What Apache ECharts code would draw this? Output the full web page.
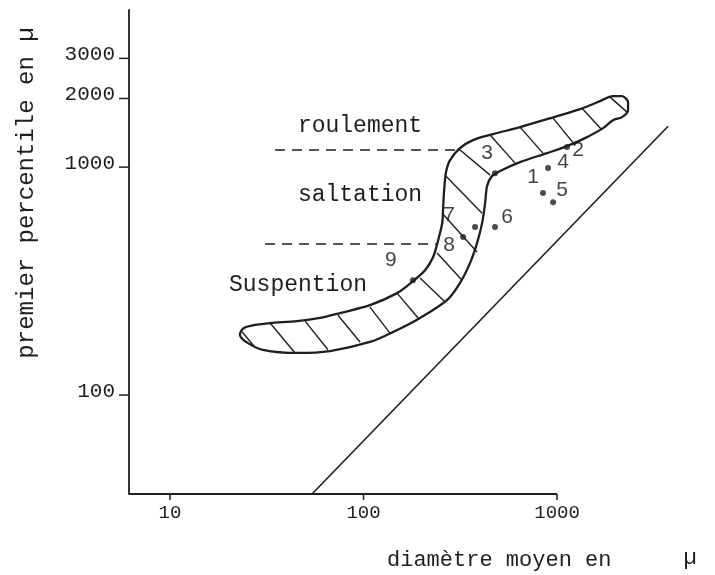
<!DOCTYPE html>
<html>
<head>
<meta charset="utf-8">
<script src="https://cdn.jsdelivr.net/npm/echarts@6/dist/echarts.min.js"></script>
<style>
  html, body { margin: 0; padding: 0; background: #ffffff; }
  #chart { width: 715px; height: 575px; }
</style>
</head>
<body>
<div id="chart"></div>
<script>
// Diagramme CM : diamètre moyen (M) contre premier percentile (C), échelles logarithmiques.

// Axis ranges (µ). The plotting area runs past the last graduated value (1000)
// so the band and the reference line can extend to the right of the axis.
const X_MIN = 6.14, X_MAX = 5480;
const Y_MIN = 36.8, Y_MAX = 4890;

// Tick values and labels
const xTickValues = [10, 100, 1000];
const xTickLabels = ['10', '100', '1000'];
const yTickValues = [100, 1000, 2000, 3000];
const yTickLabels = ['100', '1000', '2000', '3000'];

// Outline of the hatched band [M, C]: outer edge from the fine tip to the coarse tip...
const bandOuter = [
  [23.0, 187], [24.1, 197], [27.5, 203], [32.9, 207], [45.3, 211], [59.6, 218],
  [75.6, 229], [108, 248], [149, 280], [180, 316], [208, 353], [229, 403],
  [243, 478], [255, 568], [258, 668], [261, 793], [267, 951], [280, 1073],
  [315, 1211], [368, 1314], [467, 1395], [644, 1498], [888, 1624], [1315, 1796],
  [1668, 1947], [1947, 2048], [2167, 2048], [2328, 1928], [2328, 1778], [2167, 1657]
];
// ...and inner edge back to the fine tip
const bandInner = [
  [1947, 1607], [1729, 1483], [1395, 1340], [1126, 1236], [888, 1152], [644, 1051],
  [508, 961], [461, 913], [435, 826], [425, 695], [410, 568], [386, 464],
  [355, 379], [315, 310], [270, 261], [196, 218], [142, 189], [108, 171],
  [67.1, 156], [45.3, 153], [30.2, 158], [25.3, 169], [23.0, 183]
];

// Hatch strokes across the band (start on outer edge, end on inner edge)
const hatchFrom = [
  [23.6, 189], [32.9, 207], [49.9, 211], [73.8, 224], [108, 243], [149, 280],
  [196, 326], [240, 420], [255, 628], [264, 922], [308, 1211], [451, 1382],
  [644, 1498], [954, 1640], [1347, 1814], [1879, 2028]
];
const hatchTo = [
  [27.5, 162], [44.3, 153], [65.5, 158], [95.9, 171], [137, 187], [194, 215],
  [264, 256], [323, 319], [386, 424], [410, 628], [451, 922], [607, 1041],
  [846, 1152], [1239, 1249], [1708, 1454], [2300, 1743]
];

// Limits between transport modes
const limitRoulement = [[34.9, 1187], [297, 1187]];
const limitSuspension = [[31.0, 460], [237, 460]];

// C = M style reference line
const cmLine = [[54.2, 36.8], [3750, 1511]];

// Samples
const sampleIds = ['1', '2', '3', '4', '5', '6', '7', '8', '9'];
const sampleM = [846, 1126, 478, 899, 954, 478, 377, 327, 180];
const sampleC = [769, 1224, 941, 990, 702, 546, 546, 493, 319];

// Label placement around each sample dot (px)
const sampleLabelOffsets = [
  [-10, -16], [11, 3], [-8, -20], [15, -6], [9, -12], [12, -10], [-26, -12], [-14, 8], [-22, -20]
];

const INK = '#1e1e1e';
const MONO = '"Liberation Mono", "DejaVu Sans Mono", monospace';

const chart = echarts.init(document.getElementById('chart'), null, { renderer: 'canvas' });

function tickSeries(values, labels, axis) {
  return {
    type: 'custom',
    coordinateSystem: 'cartesian2d',
    silent: true,
    clip: false,
    z: 5,
    data: values.map((v, i) => axis === 'y' ? [X_MIN, v, i] : [v, Y_MIN, i]),
    encode: { x: 0, y: 1 },
    renderItem: function (params, api) {
      const p = api.coord([api.value(0), api.value(1)]);
      const text = labels[api.value(2)];
      if (axis === 'y') {
        return {
          type: 'group',
          children: [
            { type: 'line', shape: { x1: p[0] - 10, y1: p[1], x2: p[0], y2: p[1] },
              style: { stroke: INK, lineWidth: 1.5 } },
            { type: 'text', x: p[0] - 14, y: p[1] - 4,
              style: { text: text, align: 'right', verticalAlign: 'middle',
                       font: '21px ' + MONO, fill: INK } }
          ]
        };
      }
      return {
        type: 'group',
        children: [
          { type: 'line', shape: { x1: p[0], y1: p[1], x2: p[0], y2: p[1] + 6 },
            style: { stroke: INK, lineWidth: 1.5 } },
          { type: 'text', x: p[0], y: p[1] + 19,
            style: { text: text, align: 'center', verticalAlign: 'middle',
                     font: '19px ' + MONO, fill: INK } }
        ]
      };
    }
  };
}

const bandPath = bandOuter.concat(bandInner, [bandOuter[0]]);
const hatchData = hatchFrom.map((p, i) => ({ coords: [p, hatchTo[i]] }));
// Horizontal axis is graduated only up to its last tick
const xAxisBase = [[X_MIN, Y_MIN], [xTickValues[xTickValues.length - 1], Y_MIN]];

const option = {
  backgroundColor: '#ffffff',
  animation: false,
  grid: { left: 129, right: 15, top: 10, bottom: 81, containLabel: false },
  xAxis: {
    type: 'log', logBase: 10, min: X_MIN, max: X_MAX,
    axisLine: { show: false },
    axisTick: { show: false }, axisLabel: { show: false }, splitLine: { show: false }
  },
  yAxis: {
    type: 'log', logBase: 10, min: Y_MIN, max: Y_MAX,
    axisLine: { show: true, onZero: false, lineStyle: { color: INK, width: 1.8 } },
    axisTick: { show: false }, axisLabel: { show: false }, splitLine: { show: false }
  },
  graphic: [
    { type: 'text', x: 360, y: 126, style: { text: 'roulement', font: '23px ' + MONO, fill: INK, align: 'center', verticalAlign: 'middle' } },
    { type: 'text', x: 360, y: 195, style: { text: 'saltation', font: '23px ' + MONO, fill: INK, align: 'center', verticalAlign: 'middle' } },
    { type: 'text', x: 298, y: 285, style: { text: 'Suspention', font: '23px ' + MONO, fill: INK, align: 'center', verticalAlign: 'middle' } },
    { type: 'text', x: 387, y: 560, style: { text: 'diamètre moyen en', font: '22px ' + MONO, fill: INK, align: 'left', verticalAlign: 'middle' } },
    { type: 'text', x: 690, y: 558, style: { text: 'µ', font: '22px ' + MONO, fill: INK, align: 'center', verticalAlign: 'middle' } },
    { type: 'text', x: 27, y: 193, rotation: Math.PI / 2,
      style: { text: 'premier percentile en µ', font: '24px ' + MONO, fill: INK, align: 'center', verticalAlign: 'middle' } }
  ],
  series: [
    {
      name: 'axe des diamètres',
      type: 'line', data: xAxisBase, silent: true,
      showSymbol: false, symbol: 'none',
      lineStyle: { color: INK, width: 1.8 }
    },
    {
      name: 'limite C = M',
      type: 'line', data: cmLine, silent: true,
      showSymbol: false, symbol: 'none',
      lineStyle: { color: INK, width: 1.6 }
    },
    {
      name: 'bande',
      type: 'line', data: bandPath, smooth: 0.3, silent: true,
      showSymbol: false, symbol: 'none',
      lineStyle: { color: INK, width: 2.3 }
    },
    {
      name: 'hachures',
      type: 'lines', coordinateSystem: 'cartesian2d', silent: true,
      data: hatchData,
      lineStyle: { color: INK, width: 1.4, opacity: 1 }
    },
    {
      name: 'limites',
      type: 'lines', coordinateSystem: 'cartesian2d', silent: true,
      data: [{ coords: limitRoulement }, { coords: limitSuspension }],
      lineStyle: { color: INK, width: 1.6, type: [10, 7], opacity: 1 }
    },
    {
      name: 'échantillons',
      type: 'scatter', silent: true, z: 6, clip: false,
      symbol: 'circle', symbolSize: 6,
      itemStyle: { color: INK },
      data: sampleIds.map((id, i) => ({
        name: id,
        value: [sampleM[i], sampleC[i]],
        label: { offset: sampleLabelOffsets[i] }
      })),
      label: {
        show: true, position: 'inside', formatter: '{b}',
        fontFamily: '"Liberation Sans", "DejaVu Sans", sans-serif',
        fontSize: 21, color: '#111111'
      }
    },
    tickSeries(xTickValues, xTickLabels, 'x'),
    tickSeries(yTickValues, yTickLabels, 'y')
  ]
};

chart.setOption(option);
</script>
</body>
</html>
